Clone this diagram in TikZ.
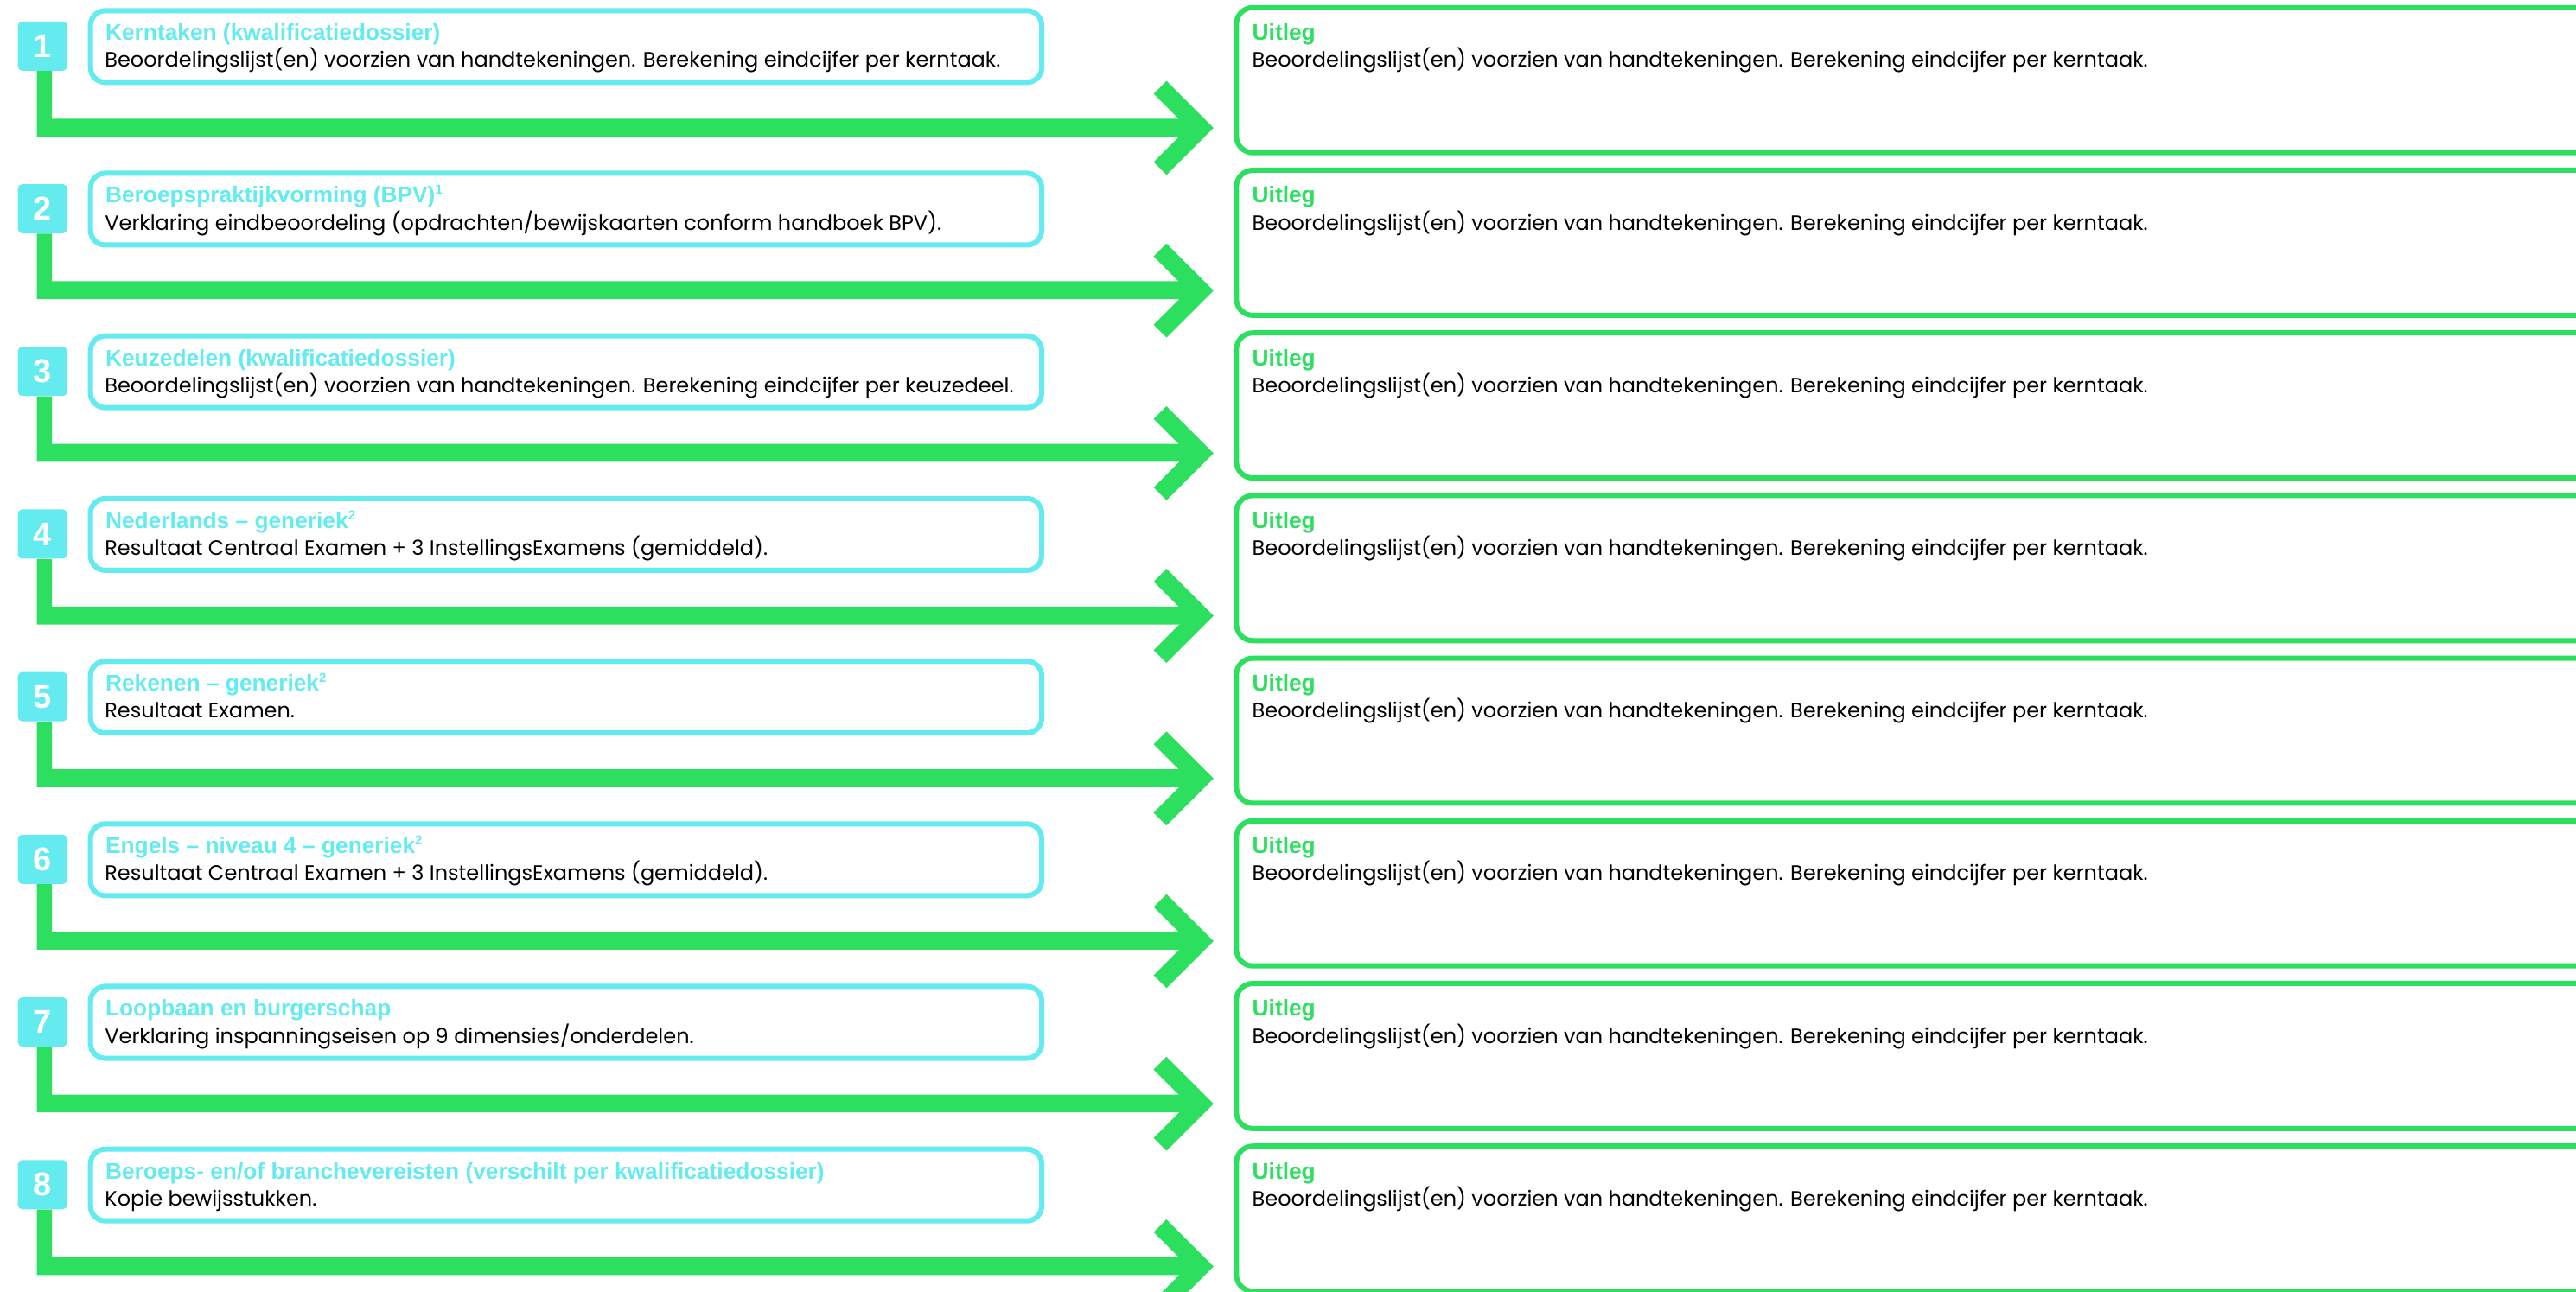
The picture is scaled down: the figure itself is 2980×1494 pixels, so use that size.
\documentclass[tikz,border=0pt]{standalone}
\usepackage{fontspec}
\setmainfont{Poppins}
\newfontfamily\headfont{Liberation Sans}
\usetikzlibrary{calc}
\definecolor{kcyan}{RGB}{99,235,239}
\definecolor{kgreen}{RGB}{45,223,95}
\newcommand\supnum[1]{\raisebox{5pt}{\fontsize{7.5}{7.5}\selectfont #1}}
\newcommand\kwrow[3]{%
  \node[numbox] (n#1) at (49.2,{1494-188.2*(#1-1)-53.35}) {#1};
  \node[leftbox] (l#1) at (654.85,{1494-188.2*(#1-1)-53.8}) {};
  \node[rightbox] (u#1) at (2220.15,{1494-188.2*(#1-1)-92.75}) {};
  \node[headtext,text=kcyan] (lt#1) at (121.7,{1494-188.2*(#1-1)-46.7}) {#2};
  \node[bodytext] (lb#1) at (121,{1494-188.2*(#1-1)-78}) {#3};
  \node[headtext,text=kgreen] (ut#1) at (1448.3,{1494-188.2*(#1-1)-46.7}) {Uitleg};
  \node[bodytext] (ub#1) at (1448.3,{1494-188.2*(#1-1)-78}) {Beoordelingslijst(en) voorzien van handtekeningen. Berekening eindcijfer per kerntaak.};
  \coordinate (vl#1) at ([xshift=-3.25pt]n#1.south);
  \coordinate (vr#1) at ([xshift=5.4pt]n#1.south);
  \coordinate (c#1) at ([xshift=-22.65pt,yshift=-27.45pt]u#1.west);
  \coordinate (k#1) at ([xshift=-19.15pt,yshift=-27.625pt]u#1.west);
  \coordinate (bl#1) at (vl#1 |- c#1);
  \fill[kgreen] (vl#1) -- (vr#1) |- ([yshift=5.175pt]c#1) -- ([yshift=-5.175pt]c#1) -- ([yshift=-5.175pt]bl#1) -- cycle;
  \draw[chev] ($(k#1)+(-47,47)$) -- (k#1) -- ($(k#1)+(-47,-47)$);
}
\begin{document}
\begin{tikzpicture}[x=0.5pt,y=0.5pt,
 numbox/.style={fill=kcyan, rounded corners=2.5pt, minimum size=28.5pt, inner sep=0pt, text=white, font=\headfont\bfseries\fontsize{19}{19}\selectfont},
 leftbox/.style={draw=kcyan, line width=3pt, rounded corners=8.5pt, minimum width=550.15pt, minimum height=41.5pt, inner sep=0pt},
 rightbox/.style={draw=kgreen, line width=3pt, rounded corners=9.5pt, minimum width=789.85pt, minimum height=83.95pt, inner sep=0pt},
 headtext/.style={anchor=base west, inner sep=0pt, font=\headfont\bfseries\fontsize{13.15}{15}\selectfont},
 bodytext/.style={anchor=base west, inner sep=0pt, font=\fontsize{12}{14}\selectfont, text=black},
 chev/.style={draw=kgreen, line width=10.5pt, miter limit=10}
]
\useasboundingbox (0,0) rectangle (2980,1494);
\clip (0,0) rectangle (2980,1494);
\kwrow{1}{Kerntaken (kwalificatiedossier)}{Beoordelingslijst(en) voorzien van handtekeningen. Berekening eindcijfer per kerntaak.}
\kwrow{2}{Beroepspraktijkvorming (BPV)\supnum{1}}{Verklaring eindbeoordeling (opdrachten/bewijskaarten conform handboek BPV).}
\kwrow{3}{Keuzedelen (kwalificatiedossier)}{Beoordelingslijst(en) voorzien van handtekeningen. Berekening eindcijfer per keuzedeel.}
\kwrow{4}{Nederlands – generiek\supnum{2}}{Resultaat Centraal Examen + 3 InstellingsExamens (gemiddeld).}
\kwrow{5}{Rekenen – generiek\supnum{2}}{Resultaat Examen.}
\kwrow{6}{Engels – niveau 4 – generiek\supnum{2}}{Resultaat Centraal Examen + 3 InstellingsExamens (gemiddeld).}
\kwrow{7}{Loopbaan en burgerschap}{Verklaring inspanningseisen op 9 dimensies/onderdelen.}
\kwrow{8}{Beroeps- en/of branchevereisten (verschilt per kwalificatiedossier)}{Kopie bewijsstukken.}
\end{tikzpicture}
\end{document}
